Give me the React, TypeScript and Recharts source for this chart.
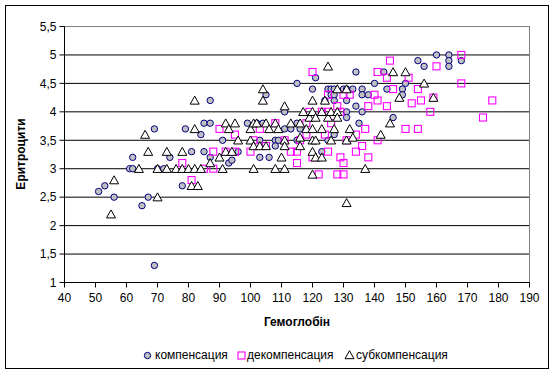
import React from 'react';
import { ScatterChart, Scatter, XAxis, YAxis, CartesianGrid, ReferenceLine } from 'recharts';

const FONT = 'Arial, "Liberation Sans", sans-serif';

const xTicks = [40, 50, 60, 70, 80, 90, 100, 110, 120, 130, 140, 150, 160, 170, 180, 190];
const yTicks = [1, 1.5, 2, 2.5, 3, 3.5, 4, 4.5, 5, 5.5];

const seriesNames = ['компенсация', 'декомпенсация', 'субкомпенсация'];

// [гемоглобін, еритроцити]
const kompensacia: number[][] = [
  [51, 2.6], [53, 2.7], [56, 2.5], [61, 3.0], [62, 3.0], [62, 3.2], [65, 2.35], [67, 2.5], [69, 1.3], [69, 3.7],
  [70, 3.0], [72, 3.0], [74, 3.2], [78, 2.7], [79, 3.7], [81, 3.3], [84, 3.6], [85, 3.8], [85, 3.3], [87, 3.8],
  [87, 4.2], [87, 3.2], [91, 3.5], [93, 3.1], [94, 3.15], [96, 3.3], [99, 3.8], [102, 3.8], [103, 3.2], [103, 3.5],
  [104, 3.8], [105, 4.3], [106, 3.2], [108, 3.5], [108, 3.4], [109, 3.5], [111, 4.0], [111, 3.7], [113, 3.7], [115, 3.5],
  [115, 3.8], [115, 4.5], [116, 3.7], [120, 4.4], [121, 4.6], [123, 3.3], [124, 4.2], [125, 3.5], [125, 4.4], [126, 4.4],
  [126, 4.3], [127, 4.4], [127, 4.2], [127, 4.3], [127, 3.6], [130, 4.4], [131, 4.4], [131, 4.2], [131, 4.0], [131, 3.9],
  [133, 4.4], [134, 4.7], [134, 4.1], [135, 3.8], [136, 4.4], [136, 4.3], [136, 4.0], [138, 4.3], [140, 4.5], [143, 4.7],
  [144, 4.4], [146, 3.9], [149, 4.4], [149, 4.3], [150, 4.5], [154, 4.9], [156, 4.8], [160, 5.0], [164, 5.0], [164, 4.9],
  [164, 4.8], [168, 4.9],
];

const dekompensacia: number[][] = [
  [78, 3.1], [81, 2.8], [85, 3.0], [88, 3.0], [88, 3.3], [90, 3.7], [92, 3.3], [95, 3.3], [95, 3.6], [100, 3.3],
  [101, 3.5], [103, 3.7], [105, 3.4], [108, 3.8], [111, 3.5], [113, 3.3], [115, 3.1], [115, 3.3], [116, 3.5], [118, 3.6],
  [118, 3.8], [119, 4.0], [120, 3.2], [120, 4.7], [122, 2.9], [123, 4.0], [124, 3.6], [125, 3.3], [125, 4.0], [125, 4.3],
  [126, 3.8], [128, 4.1], [128, 2.9], [129, 3.2], [129, 4.0], [130, 4.3], [130, 3.1], [130, 2.9], [131, 3.5], [132, 4.3],
  [134, 3.6], [134, 3.3], [136, 3.4], [137, 3.7], [138, 4.1], [138, 3.2], [140, 4.3], [141, 4.7], [141, 4.2], [141, 3.5],
  [144, 4.6], [144, 4.1], [145, 4.9], [146, 4.4], [150, 3.7], [151, 4.6], [152, 4.15], [154, 4.4], [154, 3.7], [155, 4.2],
  [158, 4.0], [159, 4.25], [160, 4.8], [168, 5.0], [168, 4.5], [175, 3.9], [178, 4.2],
];

const subkompensacia: number[][] = [
  [55, 2.2], [56, 2.8], [64, 3.0], [66, 3.6], [67, 3.3], [70, 2.5], [70, 3.0], [73, 3.0], [73, 3.3], [76, 3.0],
  [78, 3.0], [78, 3.3], [80, 3.0], [81, 2.7], [82, 3.0], [82, 4.2], [82, 3.7], [83, 2.7], [84, 3.0], [87, 3.1],
  [90, 3.2], [91, 3.0], [92, 3.3], [92, 3.8], [93, 3.7], [94, 3.3], [95, 3.8], [96, 3.5], [100, 3.7], [100, 3.5],
  [101, 3.8], [101, 3.4], [101, 3.0], [102, 3.8], [103, 3.4], [104, 4.4], [104, 4.2], [105, 3.8], [105, 3.4], [106, 3.7],
  [108, 3.8], [108, 3.0], [109, 3.7], [110, 3.2], [111, 4.1], [111, 3.5], [111, 3.4], [111, 3.0], [113, 3.8], [116, 3.8],
  [116, 3.55], [116, 3.4], [117, 4.0], [118, 3.7], [119, 3.9], [120, 4.2], [120, 4.0], [120, 3.7], [120, 3.5], [120, 3.3],
  [120, 2.9], [121, 3.9], [121, 3.5], [121, 3.2], [123, 4.0], [123, 3.7], [123, 3.2], [124, 4.2], [125, 4.8], [125, 3.9],
  [126, 4.0], [126, 3.5], [127, 3.7], [128, 4.4], [128, 4.0], [128, 3.9], [131, 4.4], [131, 3.5], [131, 2.4], [132, 3.7],
  [133, 3.55], [137, 3.0], [142, 3.6], [145, 3.8], [146, 4.7], [148, 4.25], [150, 4.7], [156, 4.5], [159, 4.25],
];

const toPts = (arr: number[][]) => arr.map(([hb, er]) => ({ hb, er }));

const CircleMark = (p: any) => (
  <circle cx={p.cx} cy={p.cy} r={3.2} fill="#C0C0C0" stroke="#000080" strokeWidth={1} />
);
const SquareMark = (p: any) => (
  <rect x={p.cx - 3.5} y={p.cy - 3.5} width={7} height={7} fill="none" stroke="#FF00FF" strokeWidth={1.1} />
);
const TriMark = (p: any) => (
  <polygon
    points={`${p.cx},${p.cy - 4.3} ${p.cx + 4.5},${p.cy + 3.7} ${p.cx - 4.5},${p.cy + 3.7}`}
    fill="#FFFFFF"
    stroke="#000000"
    strokeWidth={1}
  />
);

const fmt = (v: number) => String(v).replace('.', ',');

export default function App() {
  const tickStyle = { fill: '#000', fontSize: 12, fontFamily: FONT };
  return (
    <div style={{ position: 'absolute', left: 0, top: 0, width: 556, height: 373, background: '#fff', fontFamily: FONT }}>
      <div style={{ position: 'absolute', left: 5, top: 5, width: 542, height: 362, border: '1px solid #000' }} />
      <div style={{ position: 'absolute', left: 0, top: 0 }}>
        <ScatterChart width={556} height={373} margin={{ top: 26.5, right: 26.5, bottom: 30.5, left: 0.5 }}>
          <CartesianGrid horizontal vertical={false} stroke="#000" strokeOpacity={1} />
          <XAxis
            type="number"
            dataKey="hb"
            domain={[40, 190]}
            ticks={xTicks}
            allowDataOverflow
            height={60}
            tick={tickStyle}
            tickSize={5}
            tickMargin={6}
            tickLine={{ stroke: '#000' }}
            axisLine={{ stroke: '#000' }}
            label={{
              value: 'Гемоглобін',
              position: 'insideTop',
              offset: 35,
              style: { fill: '#000', fontSize: 12, fontWeight: 'bold', fontFamily: FONT },
            }}
          />
          <YAxis
            type="number"
            dataKey="er"
            domain={[1, 5.5]}
            ticks={yTicks}
            allowDataOverflow
            width={64}
            tick={tickStyle}
            tickSize={5}
            tickMargin={3}
            tickFormatter={fmt}
            tickLine={{ stroke: '#000' }}
            axisLine={{ stroke: '#000' }}
            label={{
              content: () => (
                <text
                  x={21}
                  y={154}
                  transform="rotate(-90 21 154)"
                  textAnchor="middle"
                  dominantBaseline="central"
                  fill="#000"
                  fontSize={12}
                  fontWeight="bold"
                  fontFamily={FONT}
                >
                  Еритроцити
                </text>
              ),
            }}
          />
          <ReferenceLine y={5.5} stroke="#808080" strokeWidth={1} />
          <ReferenceLine x={190} stroke="#808080" strokeWidth={1} />
          <Scatter name={seriesNames[0]} data={toPts(kompensacia)} shape={CircleMark} isAnimationActive={false} />
          <Scatter name={seriesNames[1]} data={toPts(dekompensacia)} shape={SquareMark} isAnimationActive={false} />
          <Scatter name={seriesNames[2]} data={toPts(subkompensacia)} shape={TriMark} isAnimationActive={false} />
        </ScatterChart>
      </div>
      <svg style={{ position: 'absolute', left: 143, top: 351 }} width={9} height={9}>
        <circle cx={4.5} cy={4.5} r={3.2} fill="#C0C0C0" stroke="#000080" strokeWidth={1} />
      </svg>
      <span style={{ position: 'absolute', left: 155, top: 348, fontSize: 12, lineHeight: '14px', whiteSpace: 'nowrap' }}>
        {seriesNames[0]}
      </span>
      <svg style={{ position: 'absolute', left: 236.5, top: 350.5 }} width={9} height={9}>
        <rect x={1} y={1} width={7} height={7} fill="none" stroke="#FF00FF" strokeWidth={1.1} />
      </svg>
      <span style={{ position: 'absolute', left: 247, top: 348, fontSize: 12, lineHeight: '14px', whiteSpace: 'nowrap' }}>
        {seriesNames[1]}
      </span>
      <svg style={{ position: 'absolute', left: 344, top: 350 }} width={11} height={10}>
        <polygon points="5.5,0.7 10,8.7 1,8.7" fill="#fff" stroke="#000" strokeWidth={1} />
      </svg>
      <span style={{ position: 'absolute', left: 356, top: 348, fontSize: 12, lineHeight: '14px', whiteSpace: 'nowrap' }}>
        {seriesNames[2]}
      </span>
    </div>
  );
}
